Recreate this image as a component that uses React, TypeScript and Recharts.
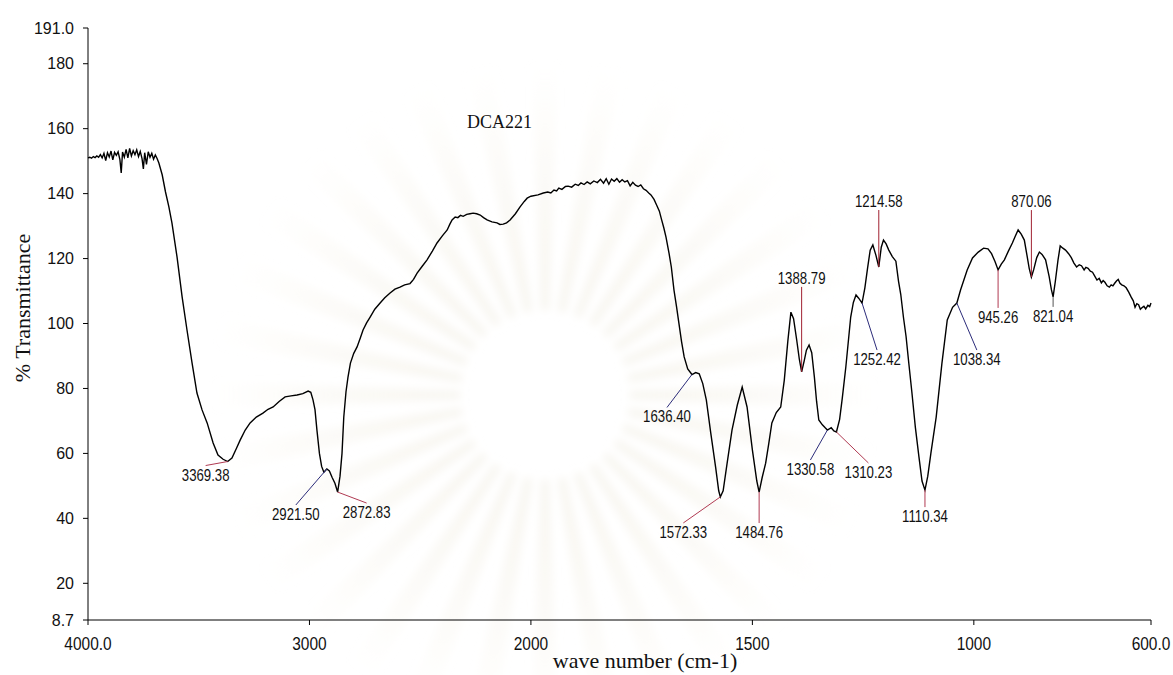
import React from 'react';
import { LineChart, Line, XAxis, YAxis, ReferenceDot, Label } from 'recharts';

// IR spectrum of DCA221, wavenumbers in cm-1 (4000 -> 600), % transmittance
const WAVENUMBER = [
  4000, 3992, 3984, 3976, 3968, 3960, 3952, 3944, 3936, 3928, 3920, 3912, 3904, 3896, 3888, 3880, 3872, 3864, 3856, 3850,
  3844, 3836, 3828, 3820, 3812, 3804, 3796, 3788, 3780, 3772, 3764, 3756, 3750, 3744, 3736, 3728, 3720, 3712, 3704, 3696,
  3688, 3680, 3665, 3650, 3635, 3621, 3598, 3575, 3553, 3530, 3508, 3485, 3462, 3435, 3413, 3390, 3369.38, 3350, 3330, 3313,
  3290, 3268, 3240, 3210, 3187, 3164, 3137, 3110, 3083, 3056, 3030, 3006, 2994, 2984, 2975, 2966, 2955, 2945, 2935, 2921.5,
  2910, 2897, 2885, 2872.83, 2862, 2853, 2845, 2835, 2826, 2815, 2800, 2785, 2770, 2758, 2742, 2726, 2705, 2681, 2660, 2636,
  2614, 2591, 2570, 2546, 2530, 2514, 2490, 2469, 2445, 2424, 2400, 2378, 2366, 2356, 2342, 2330, 2318, 2306, 2290, 2275,
  2261, 2245, 2229, 2214, 2198, 2176, 2153, 2140, 2125, 2110, 2094, 2070, 2049, 2030, 2017, 2000, 1984, 1972, 1962, 1955,
  1948, 1942, 1937, 1930, 1922, 1916, 1908, 1900, 1893, 1887, 1880, 1873, 1866, 1858, 1850, 1843, 1836, 1830, 1824, 1818,
  1812, 1806, 1800, 1794, 1788, 1782, 1776, 1770, 1764, 1758, 1752, 1746, 1740, 1734, 1729, 1722, 1716, 1710, 1705, 1700,
  1695, 1688, 1683, 1677, 1671, 1666, 1660, 1654, 1646, 1636.4, 1628, 1620, 1612, 1604, 1594, 1583, 1576, 1572.33, 1566, 1557,
  1546, 1534, 1523, 1512, 1500, 1490, 1484.76, 1478, 1470, 1463, 1456, 1446, 1436, 1428, 1420, 1413, 1407, 1400, 1394, 1388.79,
  1383, 1378, 1372, 1366, 1360, 1355, 1350, 1342, 1335, 1330.58, 1322, 1316, 1310.23, 1303, 1297, 1289, 1283, 1278, 1272, 1266,
  1260, 1252.42, 1246, 1240, 1234, 1228, 1221, 1214.58, 1209, 1204, 1198, 1192, 1184, 1176, 1170, 1165, 1159, 1153, 1147, 1140,
  1132, 1124, 1117, 1110.34, 1104, 1097, 1085, 1072, 1060, 1048, 1038.34, 1030, 1015, 1003, 990, 978, 968, 960, 952, 945.26,
  938, 931, 922, 913, 906, 900, 893, 886, 880, 875, 870.06, 865, 858, 852, 846, 838, 830, 825, 821.04, 816,
  810, 805, 799, 793, 786, 780, 774, 768, 762, 757, 751, 747, 742, 737, 732, 727, 722, 717, 712, 708,
  704, 699, 694, 690, 686, 682, 678, 674, 670, 666, 661, 656, 650, 645, 640, 636, 632, 628, 624, 620,
  616, 612, 607, 603, 600,
];

const TRANSMITTANCE = [
  151.0, 151.2, 150.9, 151.4, 151.1, 151.6, 151.2, 152.0, 151.0, 152.4, 150.2, 152.6, 151.3, 153.1, 150.4, 152.7, 151.8, 152.9, 150.5, 146.4,
  152.8, 151.2, 153.6, 151.0, 153.9, 151.6, 153.2, 152.0, 153.5, 151.4, 153.0, 150.8, 147.6, 152.6, 149.0, 152.9, 151.2, 152.4, 150.6, 151.9,
  150.8, 149.4, 145.8, 140.5, 136.0, 131.0, 120.5, 108.2, 98.0, 87.8, 78.6, 73.4, 69.4, 63.2, 59.5, 58.2, 57.5, 58.6, 61.5, 64.1,
  67.2, 69.4, 71.2, 72.4, 73.6, 74.3, 76.0, 77.4, 77.7, 78.0, 78.4, 79.2, 78.8, 76.5, 73.5, 67.0, 60.0, 56.0, 54.2, 55.2,
  54.6, 52.5, 50.8, 48.1, 53.0, 60.0, 71.2, 79.0, 83.5, 87.8, 90.8, 92.8, 95.6, 98.0, 100.2, 102.0, 104.4, 106.3, 107.9, 109.4,
  110.6, 111.2, 111.9, 112.3, 113.6, 115.5, 117.7, 119.6, 122.3, 124.8, 127.0, 128.8, 130.6, 131.9, 132.8, 132.6, 133.3, 133.0, 133.6, 133.8,
  134.0, 133.8, 133.4, 132.6, 131.9, 131.3, 131.0, 130.5, 130.6, 131.0, 131.9, 133.8, 135.9, 137.6, 138.6, 139.2, 139.6, 140.2, 140.5, 140.2,
  141.1, 140.8, 141.7, 141.3, 142.2, 142.3, 142.0, 142.9, 142.5, 143.3, 142.8, 143.6, 143.0, 143.9, 143.4, 144.4, 143.2, 144.6, 142.9, 144.5,
  143.8, 144.6, 143.5, 144.3, 143.6, 144.0, 142.4, 143.5, 142.6, 142.2, 142.7, 141.5, 141.0, 140.2, 139.6, 138.2, 136.4, 134.6, 132.0, 129.5,
  126.6, 121.5, 117.4, 110.3, 105.0, 100.2, 94.5, 89.7, 86.0, 84.3, 84.9, 84.5, 81.5, 76.5, 66.3, 55.8, 48.5, 46.6, 48.5, 57.0,
  67.2, 74.9, 80.4, 74.3, 61.1, 51.5, 48.1, 52.5, 57.0, 63.0, 69.4, 72.6, 74.3, 82.5, 94.5, 103.5, 101.5, 95.0, 89.0, 85.1,
  88.5, 91.8, 93.4, 91.0, 83.5, 76.0, 70.3, 68.8, 67.8, 67.2, 67.9, 66.9, 66.6, 70.5, 77.0, 86.6, 95.0, 102.0, 106.5, 108.8,
  107.8, 106.3, 111.0, 117.0, 122.6, 124.2, 121.0, 117.4, 123.5, 125.7, 124.5, 122.6, 120.6, 119.2, 113.0, 109.0, 102.0, 96.0, 88.0, 79.0,
  68.0, 59.0, 51.5, 48.7, 53.0, 60.0, 71.2, 87.8, 101.1, 105.0, 106.3, 110.3, 116.5, 120.2, 122.0, 123.2, 123.0, 121.5, 119.0, 116.5,
  118.3, 119.6, 122.3, 124.8, 127.0, 128.8, 127.5, 125.7, 121.0, 117.0, 114.3, 116.5, 120.3, 122.0, 121.3, 119.6, 114.5, 110.5, 108.2, 113.0,
  119.5, 123.9, 123.2, 122.6, 121.5, 120.3, 118.6, 117.4, 118.1, 117.8, 116.5, 117.3, 117.0, 116.1, 115.8, 114.6, 113.4, 113.9, 112.5, 113.2,
  112.7, 111.6, 111.2, 111.9, 111.6, 112.4, 113.1, 113.6, 112.4, 111.9, 111.6, 111.0, 109.6, 108.2, 107.0, 105.0, 106.1, 105.8, 104.4, 104.9,
  105.3, 104.5, 105.6, 105.2, 106.3,
];

// labelled peaks
const PEAK_WN = [3369.38, 2921.5, 2872.83, 1636.4, 1572.33, 1484.76, 1388.79, 1330.58, 1310.23, 1252.42, 1214.58, 1110.34, 1038.34, 945.26, 870.06, 821.04];
const PEAK_T = [57.5, 55.2, 48.1, 84.3, 46.6, 48.1, 85.1, 67.2, 66.6, 106.3, 117.4, 48.7, 106.3, 116.5, 114.3, 108.2];

const X_TICK_WN = [4000, 3000, 2000, 1500, 1000, 600];
const X_TICK_LABELS = ['4000.0', '3000', '2000', '1500', '1000', '600.0'];
const Y_TICKS = [8.7, 20, 40, 60, 80, 100, 120, 140, 160, 180, 191];
const Y_TICK_LABELS = ['8.7', '20', '40', '60', '80', '100', '120', '140', '160', '180', '191.0'];

// leader line end (px offset from peak) and label side
const RED = '#b03a52';
const BLUE = '#2c2c7a';
const LEADERS: { dx: number; dy: number; up?: boolean; color: string }[] = [
  { dx: -22, dy: 4, color: RED },
  { dx: -31, dy: 36, color: BLUE },
  { dx: 29, dy: 11, color: RED },
  { dx: -25, dy: 33, color: BLUE },
  { dx: -37, dy: 26, color: RED },
  { dx: 0, dy: 31, color: RED },
  { dx: 0, dy: -85, up: true, color: '#a02030' },
  { dx: -17, dy: 30, color: BLUE },
  { dx: 32, dy: 31, color: RED },
  { dx: 15, dy: 47, color: BLUE },
  { dx: 0, dy: -57, up: true, color: '#a02030' },
  { dx: 0, dy: 17, color: RED },
  { dx: 20, dy: 47, color: BLUE },
  { dx: 0, dy: 38, color: RED },
  { dx: 0, dy: -67, up: true, color: '#a02030' },
  { dx: 0, dy: 10, color: '#555555' },
];

// the instrument plots 4000-2000 at half the scale of 2000-600
const toPos = (wn: number) => (wn >= 2000 ? 4000 - wn : 2000 + 2 * (2000 - wn));

const data = WAVENUMBER.map((wn, i) => ({ pos: toPos(wn), t: TRANSMITTANCE[i] }));
const xTicks = X_TICK_WN.map(toPos);

const SANS = "'Liberation Sans', Arial, sans-serif";
const SERIF = "'Liberation Serif', 'Times New Roman', serif";

// faint sunburst printed behind the plot
const Backdrop = () => {
  const cx = 545;
  const cy = 395;
  const rays = [];
  for (let a = 0; a < 360; a += 11.25) {
    const r0 = 85;
    const r1 = 330;
    const a0 = ((a - 2.4) * Math.PI) / 180;
    const a1 = ((a + 2.4) * Math.PI) / 180;
    const pts = [
      [cx + r0 * Math.cos(a0), cy + r0 * Math.sin(a0)],
      [cx + r1 * Math.cos(a0), cy + r1 * Math.sin(a0)],
      [cx + r1 * Math.cos(a1), cy + r1 * Math.sin(a1)],
      [cx + r0 * Math.cos(a1), cy + r0 * Math.sin(a1)],
    ];
    rays.push(<polygon key={a} points={pts.map((p) => p.join(',')).join(' ')} />);
  }
  return (
    <svg width={1173} height={675} style={{ position: 'absolute', left: 0, top: 0 }}>
      <defs>
        <radialGradient id="fade" cx={cx} cy={cy} r={340} gradientUnits="userSpaceOnUse">
          <stop offset="0.25" stopColor="#f5f2ea" stopOpacity={0.8} />
          <stop offset="1" stopColor="#f8f5ec" stopOpacity={0} />
        </radialGradient>
        <filter id="soft" x="-10%" y="-10%" width="120%" height="120%">
          <feGaussianBlur stdDeviation="4" />
        </filter>
      </defs>
      <g fill="url(#fade)" filter="url(#soft)">{rays}</g>
    </svg>
  );
};

// condensed sans text, squeezed horizontally
const NarrowText = ({ x, y, size, squeeze, children }: any) => (
  <g transform={`translate(${x},${y})`}>
    <text transform={`scale(${squeeze},1)`} textAnchor="middle" fontFamily={SANS} fontSize={size} fill="#111">
      {children}
    </text>
  </g>
);

const XTick = (props: any) => {
  const { x, y, payload } = props;
  return (
    <NarrowText x={x} y={y + 21} size={18} squeeze={0.86}>
      {X_TICK_LABELS[xTicks.indexOf(payload.value)]}
    </NarrowText>
  );
};

const PeakMark = (props: any) => {
  const { cx, cy, leader, text } = props;
  const x2 = cx + leader.dx;
  const y2 = cy + leader.dy;
  return (
    <g>
      <line x1={cx} y1={cy} x2={x2} y2={y2} stroke={leader.color} strokeWidth={1} />
      <NarrowText x={x2} y={leader.up ? y2 - 3 : y2 + 15} size={16.5} squeeze={0.8}>
        {text}
      </NarrowText>
    </g>
  );
};

export default function App() {
  return (
    <div style={{ position: 'absolute', left: 0, top: 0, width: 1173, height: 675, background: '#fff' }}>
      <Backdrop />
      <div style={{ position: 'absolute', left: 0, top: 0 }}>
        <LineChart width={1173} height={675} data={data} margin={{ top: 28, right: 22, left: 28, bottom: 25 }}>
          <XAxis
            dataKey="pos"
            type="number"
            domain={[0, 4800]}
            ticks={xTicks}
            height={30}
            stroke="#000"
            tickSize={5}
            tickMargin={4}
            tick={<XTick />}
          >
            <Label
              content={() => (
                <text x={645} y={668} textAnchor="middle" fontFamily={SERIF} fontSize={22} fill="#111">
                  wave number (cm-1)
                </text>
              )}
            />
          </XAxis>
          <YAxis
            type="number"
            domain={[8.7, 191]}
            ticks={Y_TICKS}
            tickFormatter={(v: number) => Y_TICK_LABELS[Y_TICKS.indexOf(v)]}
            width={60}
            stroke="#000"
            tickSize={5}
            tickMargin={9}
            tick={{ fill: '#111', fontSize: 16, fontFamily: SANS }}
          >
            <Label
              content={() => (
                <text
                  x={30}
                  y={308}
                  transform="rotate(-90, 30, 308)"
                  textAnchor="middle"
                  fontFamily={SERIF}
                  fontSize={22}
                  fill="#111"
                >
                  % Transmittance
                </text>
              )}
            />
          </YAxis>
          <Line
            dataKey="t"
            type="linear"
            stroke="#000"
            strokeWidth={1.4}
            dot={false}
            isAnimationActive={false}
          />
          {PEAK_WN.map((wn, i) => (
            <ReferenceDot
              key={wn}
              x={toPos(wn)}
              y={PEAK_T[i]}
              r={1}
              shape={(p: any) => <PeakMark cx={p.cx} cy={p.cy} leader={LEADERS[i]} text={wn.toFixed(2)} />}
            />
          ))}
        </LineChart>
      </div>
      <div
        style={{
          position: 'absolute',
          left: 467,
          top: 112,
          fontFamily: SERIF,
          fontSize: 18,
          color: '#111',
        }}
      >
        DCA221
      </div>
    </div>
  );
}
